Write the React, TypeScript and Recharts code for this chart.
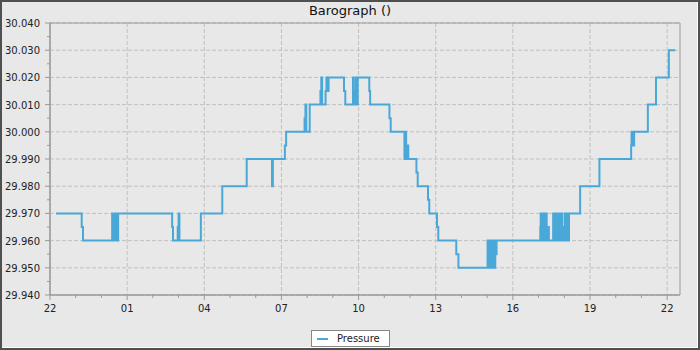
import React from 'react'
import {
  LineChart,
  Line,
  XAxis,
  YAxis,
  CartesianGrid,
  ReferenceArea,
  Legend
} from 'recharts'

// minutes since 22:00 on the first day
const times = [
  14, 74, 77, 145, 146, 147, 148, 149, 150, 151, 152, 153, 154, 155, 156, 157, 158,
  159, 161, 285, 287, 298, 300, 302, 352, 402, 459, 518, 520, 548, 551, 594, 596,
  598, 606, 631, 633, 635, 643, 645, 647, 650, 686, 689, 707, 709, 712, 714, 716,
  718, 745, 747, 792, 795, 827, 829, 831, 833, 836, 855, 858, 882, 885, 903, 906,
  948, 953,
  1021, 1022, 1023, 1024, 1025, 1026, 1027, 1029, 1030, 1031, 1032, 1033, 1035,
  1036, 1037, 1038, 1039, 1040, 1041, 1042,
  1144, 1145, 1146, 1147, 1148, 1149, 1150, 1151, 1152, 1153, 1154, 1155, 1156,
  1157, 1158, 1159, 1160, 1161, 1162, 1163, 1164, 1165,
  1174, 1175, 1176, 1177, 1178, 1179, 1180, 1181, 1182, 1183, 1184,
  1185, 1186, 1187, 1188, 1189, 1190, 1191, 1192, 1193, 1194, 1195,
  1196, 1197, 1198, 1199,
  1200, 1201, 1202, 1203, 1204, 1205, 1206, 1207, 1208, 1209, 1210, 1211, 1212,
  1237, 1282, 1356, 1357, 1358, 1359, 1360, 1361, 1362, 1363, 1366, 1395, 1414, 1444, 1459
]

const pressure = [
  29.97, 29.965, 29.96, 29.97, 29.96, 29.97, 29.96, 29.97, 29.96, 29.97, 29.96, 29.97,
  29.96, 29.97, 29.96, 29.97, 29.96, 29.97, 29.97, 29.965, 29.96, 29.965, 29.97, 29.96,
  29.97, 29.98, 29.99, 29.98, 29.99, 29.995, 30.0, 30.005, 30.01, 30.0, 30.01, 30.015,
  30.02, 30.01, 30.015, 30.02, 30.015, 30.02, 30.015, 30.01, 30.02, 30.01, 30.015,
  30.02, 30.01, 30.02, 30.015, 30.01, 30.005, 30.0, 29.99, 30.0, 29.99, 29.995, 29.99,
  29.985, 29.98, 29.975, 29.97, 29.965, 29.96, 29.955, 29.95,
  29.96, 29.95, 29.96, 29.955, 29.95, 29.96, 29.955, 29.96, 29.95, 29.96, 29.955,
  29.95, 29.96, 29.955, 29.96, 29.95, 29.955, 29.96, 29.955, 29.96,
  29.965, 29.97, 29.96, 29.97, 29.965, 29.97, 29.96, 29.97, 29.965, 29.97, 29.96,
  29.97, 29.96, 29.965, 29.97, 29.965, 29.96, 29.965, 29.96, 29.965, 29.96, 29.96,
  29.97, 29.96, 29.97, 29.965, 29.97, 29.96, 29.97, 29.965, 29.97, 29.96, 29.97,
  29.965, 29.97, 29.96, 29.97, 29.965, 29.97, 29.96, 29.97, 29.965, 29.97, 29.96,
  29.965, 29.96, 29.965, 29.96,
  29.965, 29.97, 29.96, 29.97, 29.965, 29.97, 29.96, 29.97, 29.965, 29.97, 29.96, 29.97, 29.97,
  29.98, 29.99, 29.995, 30.0, 29.995, 30.0, 29.995, 30.0, 29.995, 30.0, 30.0, 30.01,
  30.02, 30.03, 30.03
]

const xMajor = [0, 180, 360, 540, 720, 900, 1080, 1260, 1440]
const xMinor = Array.from({ length: 25 }, (_, i) => i * 60)
const yMajor = [29.94, 29.95, 29.96, 29.97, 29.98, 29.99, 30.0, 30.01, 30.02, 30.03, 30.04]
const yMinor = [29.945, 29.955, 29.965, 29.975, 29.985, 29.995, 30.005, 30.015, 30.025, 30.035]

const data = times.map((t, i) => ({ t, pressure: pressure[i] }))

const font = 'DejaVu Sans'
const lineColor = '#4aa8d8'
const axisColor = '#999'

const hourLabel = (m: number) => String((22 + Math.round(m / 60)) % 24).padStart(2, '0')

const XTick = (props: any) => {
  const { x, y, payload } = props
  const major = payload.value % 180 === 0
  return (
    <g>
      <line x1={x} x2={x} y1={y} y2={y + (major ? 5 : 3)} stroke={axisColor} />
      {major && (
        <text x={x} y={y + 17} textAnchor="middle" fontSize={10} fontFamily={font} fill="#222">
          {hourLabel(payload.value)}
        </text>
      )}
    </g>
  )
}

const YTick = (props: any) => {
  const { x, y, payload } = props
  const major = yMajor.some(v => Math.abs(v - payload.value) < 1e-6)
  return (
    <g>
      <line x1={x} x2={x - (major ? 5 : 3)} y1={y} y2={y} stroke={axisColor} />
      {major && (
        <text x={x - 10} y={y + 4} textAnchor="end" fontSize={10} fontFamily={font} fill="#222">
          {payload.value.toFixed(3)}
        </text>
      )}
    </g>
  )
}

const LegendBox = () => (
  <div
    style={{
      width: 79,
      height: 17,
      boxSizing: 'border-box',
      border: '1px solid #888',
      background: '#fff',
      display: 'flex',
      alignItems: 'center',
      fontFamily: font,
      fontSize: 10,
      color: '#222'
    }}
  >
    <span style={{ display: 'inline-block', width: 11, height: 2, background: lineColor, marginLeft: 5, marginRight: 9 }} />
    Pressure
  </div>
)

export default function App() {
  const yTicks = [...yMajor, ...yMinor].sort((a, b) => a - b)
  return (
    <div style={{ position: 'absolute', left: 0, top: 0, width: 700, height: 350, background: '#e8e8e8' }}>
      <div
        style={{
          position: 'absolute',
          left: 0,
          top: 0,
          width: 700,
          lineHeight: '22px',
          textAlign: 'center',
          fontFamily: font,
          fontSize: 13,
          color: '#111'
        }}
      >
        Barograph ()
      </div>
      <LineChart
        width={700}
        height={350}
        data={data}
        margin={{ top: 23, right: 20, left: 0, bottom: 0 }}
      >
        <CartesianGrid
          stroke="#c0c0c0"
          strokeDasharray="4 2"
          verticalValues={xMajor}
          horizontalValues={yMajor}
        />
        <ReferenceArea x1={0} x2={1470} y1={29.94} y2={30.04} fill="none" stroke={axisColor} strokeOpacity={1} fillOpacity={0} />
        <XAxis
          dataKey="t"
          type="number"
          domain={[0, 1470]}
          ticks={xMinor}
          interval={0}
          height={55}
          tickSize={0}
          tickMargin={0}
          tickLine={false}
          stroke={axisColor}
          tick={<XTick />}
        />
        <YAxis
          type="number"
          domain={[29.94, 30.04]}
          ticks={yTicks}
          interval={0}
          width={50}
          tickSize={0}
          tickMargin={0}
          tickLine={false}
          stroke={axisColor}
          tick={<YTick />}
        />
        <Legend
          layout="horizontal"
          verticalAlign="middle"
          wrapperStyle={{ left: 311, top: 330, width: 79, height: 17 }}
          content={<LegendBox />}
        />
        <Line
          type="stepAfter"
          dataKey="pressure"
          stroke={lineColor}
          strokeWidth={2}
          dot={false}
          isAnimationActive={false}
        />
      </LineChart>
      <div
        style={{
          position: 'absolute',
          left: 0,
          top: 0,
          width: 700,
          height: 350,
          boxSizing: 'border-box',
          border: '2px solid #505050',
          boxShadow: 'inset -1px -1px 0 #fff',
          pointerEvents: 'none'
        }}
      />
    </div>
  )
}
